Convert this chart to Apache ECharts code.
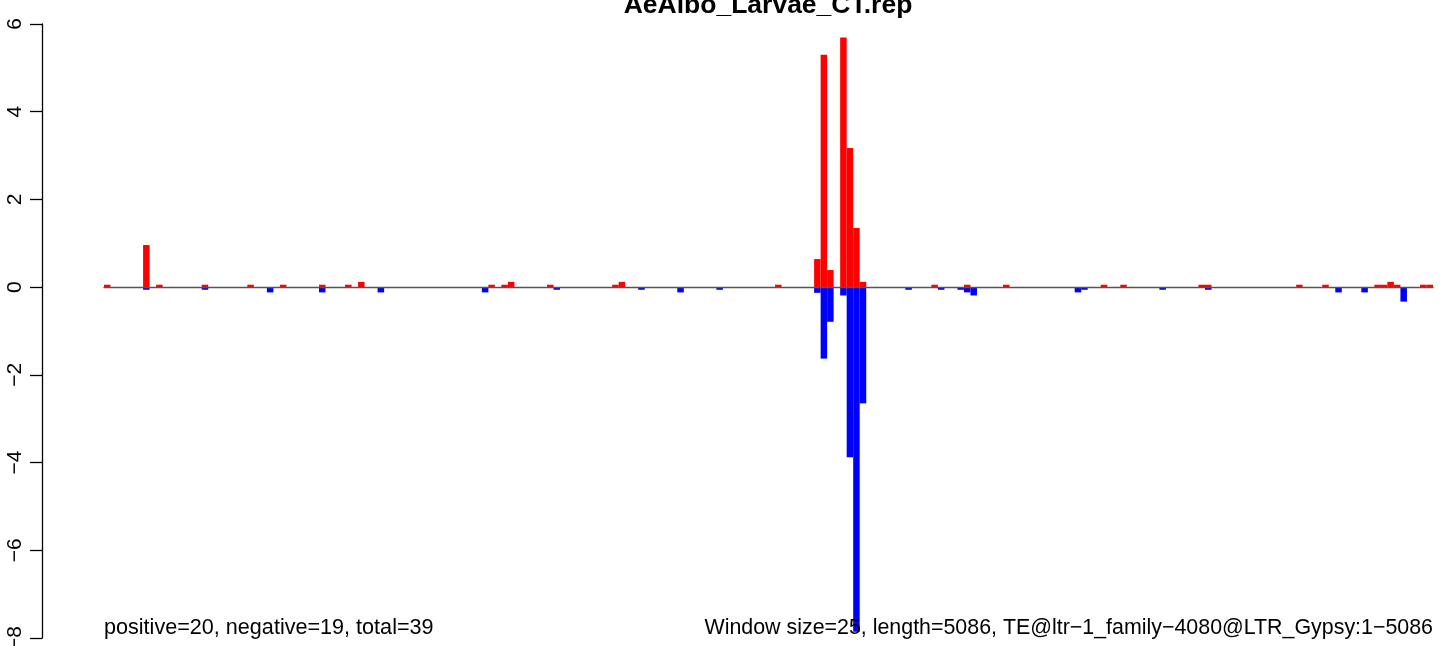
<!DOCTYPE html>
<html>
<head>
<meta charset="utf-8">
<script src="https://cdn.jsdelivr.net/npm/echarts@6/dist/echarts.min.js"></script>
<style>
html,body{margin:0;padding:0;background:#fff;}
#chart{width:1441px;height:646px;}
</style>
</head>
<body>
<div id="chart"></div>
<script>
// Window bins (window size 25, length 5086 -> 204 windows)
const binCount = 204;
// Positive (red) bars: window index and value
const posBins = [0, 6, 8, 15, 22, 27, 33, 37, 39, 59, 61, 62, 68, 78, 79, 103, 109, 110, 111, 113, 114, 115, 116, 127, 132, 138, 153, 156, 168, 169, 183, 187, 195, 196, 197, 198, 202, 203];
const posVals = [0.055, 0.96, 0.055, 0.055, 0.055, 0.055, 0.055, 0.055, 0.12, 0.055, 0.055, 0.12, 0.055, 0.055, 0.12, 0.055, 0.64, 5.30, 0.39, 5.69, 3.17, 1.35, 0.12, 0.055, 0.055, 0.055, 0.055, 0.055, 0.055, 0.055, 0.055, 0.055, 0.055, 0.055, 0.12, 0.055, 0.055, 0.055];
// Negative (blue) bars: window index and value
const negBins = [6, 15, 25, 33, 42, 58, 69, 82, 88, 94, 109, 110, 111, 113, 114, 115, 116, 123, 128, 131, 132, 133, 149, 150, 162, 169, 189, 193, 199];
const negVals = [-0.06, -0.06, -0.12, -0.12, -0.12, -0.12, -0.06, -0.06, -0.12, -0.06, -0.13, -1.63, -0.79, -0.19, -3.88, -7.86, -2.65, -0.06, -0.06, -0.06, -0.12, -0.19, -0.12, -0.06, -0.06, -0.06, -0.12, -0.12, -0.33];
const yTicks = [-8, -6, -4, -2, 0, 2, 4, 6];
const titleText = 'AeAlbo_Larvae_CT.rep';
const leftNote = 'positive=20, negative=19, total=39';
const rightNote = 'Window size=25, length=5086, TE@ltr\u22121_family\u22124080@LTR_Gypsy:1\u22125086';

const categories = [];
const posData = [];
const negData = [];
for (let i = 0; i < binCount; i++) { categories.push(i); posData.push(0); negData.push(0); }
posBins.forEach((b, k) => { posData[b] = posVals[k]; });
negBins.forEach((b, k) => { negData[b] = negVals[k]; });

const FONT = '"Liberation Sans", Arial, Helvetica, sans-serif';
const chart = echarts.init(document.getElementById('chart'), null, {renderer: 'canvas'});
chart.setOption({
  animation: false,
  backgroundColor: '#fff',
  grid: {left: 104, right: 8, top: 24, bottom: 8, containLabel: false, outerBoundsMode: 'none'},
  xAxis: {
    type: 'category',
    data: categories,
    boundaryGap: true,
    z: 5,
    axisLine: {show: true, onZero: true, lineStyle: {color: '#555', width: 1.3}},
    axisTick: {show: false},
    axisLabel: {show: false},
    splitLine: {show: false}
  },
  yAxis: {
    type: 'value',
    min: yTicks[0],
    max: yTicks[yTicks.length - 1],
    interval: 2,
    offset: 62,
    axisLine: {show: true, lineStyle: {color: '#000', width: 1.3}},
    axisTick: {show: true, length: 12, lineStyle: {color: '#000', width: 1.3}},
    axisLabel: {
      show: true, rotate: 90, margin: 16, color: '#000',
      fontFamily: FONT, fontSize: 21,
      formatter: v => String(v).replace('-', '\u2212')
    },
    splitLine: {show: false}
  },
  series: [
    {type: 'bar', name: 'pos', stack: 's', data: posData, barCategoryGap: '0%', itemStyle: {color: '#ff0000'}},
    {type: 'bar', name: 'neg', stack: 's', data: negData, barCategoryGap: '0%', itemStyle: {color: '#0000ff'}}
  ],
  graphic: [
    {type: 'text', style: {text: titleText, x: 768, y: 6, align: 'center', verticalAlign: 'middle', font: 'bold 26.5px ' + FONT, fill: '#000'}, z: 100},
    {type: 'text', style: {text: leftNote, x: 104, y: 628, align: 'left', verticalAlign: 'middle', font: '21.6px ' + FONT, fill: '#000'}, z: 100},
    {type: 'text', style: {text: rightNote, x: 1433, y: 628, align: 'right', verticalAlign: 'middle', font: '21.4px ' + FONT, fill: '#000'}, z: 100}
  ]
});
</script>
</body>
</html>
